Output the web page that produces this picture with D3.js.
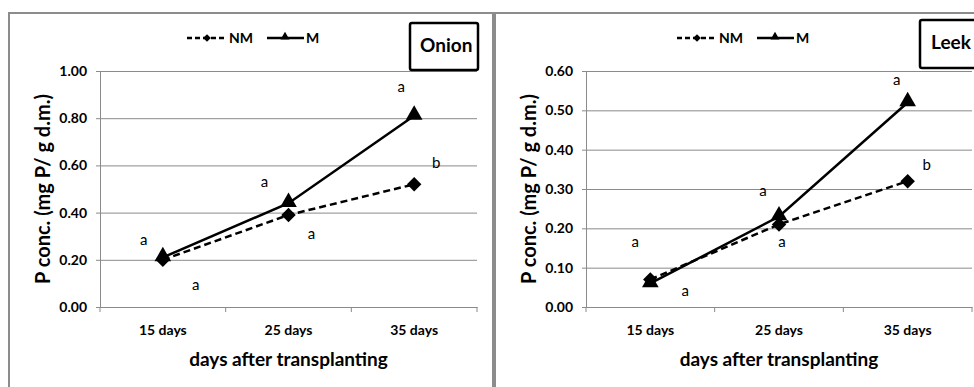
<!DOCTYPE html>
<html lang="en">
<head>
<meta charset="UTF-8">
<title>P concentration</title>
<script src="https://d3js.org/d3.v7.min.js"></script>
<style>
  body { margin: 0; background: #fff; }
  text { font-family: Lato, "Open Sans", sans-serif; }
</style>
</head>
<body>
<script>
  const categories = ['15  days', '25 days', '35 days']
  const seriesNames = ['NM', 'M']

  const onionNM = [0.20, 0.39, 0.52]
  const onionM = [0.21, 0.44, 0.81]
  const onionTicks = [0, 0.2, 0.4, 0.6, 0.8, 1.0]
  const onionLettersNM = ['a', 'a', 'b']
  const onionLettersM = ['a', 'a', 'a']

  const leekNM = [0.07, 0.21, 0.32]
  const leekM = [0.06, 0.23, 0.52]
  const leekTicks = [0, 0.1, 0.2, 0.3, 0.4, 0.5, 0.6]
  const leekLettersNM = ['a', 'a', 'b']
  const leekLettersM = ['a', 'a', 'a']

  const width = 974, height = 387

  const svg = d3.select('body').append('svg')
    .attr('width', width).attr('height', height)

  function panel(opt) {
    const g = svg.append('g')

    // outer frame
    g.append('rect')
      .attr('x', opt.frame[0]).attr('y', 13)
      .attr('width', opt.frame[1] - opt.frame[0]).attr('height', 400)
      .attr('fill', 'none').attr('stroke', '#8c8c8c').attr('stroke-width', 2)

    const x = d3.scaleBand().domain(categories).range([opt.left, opt.right])
    const y = d3.scaleLinear().domain([0, opt.max]).range([307, 71])

    // grid
    g.append('g')
      .attr('transform', `translate(${opt.left},0)`)
      .call(d3.axisLeft(y).tickValues(opt.ticks.slice(1)).tickSize(-(opt.right - opt.left)).tickFormat(''))
      .call(s => s.select('.domain').remove())
      .selectAll('line').attr('stroke', '#8a8a8a')

    // y axis
    g.append('g')
      .attr('transform', `translate(${opt.left},0)`)
      .call(d3.axisLeft(y).tickValues(opt.ticks).tickSize(4).tickPadding(9).tickFormat(d3.format('.2f')))
      .call(s => s.select('.domain').attr('stroke', '#8a8a8a'))
      .call(s => s.selectAll('line').attr('stroke', '#8a8a8a'))
      .call(s => s.selectAll('text').attr('font-size', 14).attr('font-weight', 'bold').attr('fill', '#000')
        .style('font-family', 'Lato, sans-serif'))

    // x axis
    const xa = g.append('g')
      .attr('transform', 'translate(0,307)')
      .call(d3.axisBottom(x).tickSize(0).tickPadding(18))
      .call(s => s.select('.domain').attr('stroke', '#8a8a8a'))
      .call(s => s.selectAll('text').attr('font-size', 14).attr('font-weight', 'bold').attr('fill', '#000')
        .style('font-family', 'Lato, sans-serif'))
    xa.selectAll('.bound')
      .data(categories.map(c => x(c)).concat([x.range()[1]]))
      .join('line').attr('class', 'bound')
      .attr('x1', d => d).attr('x2', d => d).attr('y1', 0).attr('y2', 5)
      .attr('stroke', '#8a8a8a')

    const cx = c => x(c) + x.bandwidth() / 2

    // axis titles
    g.append('text')
      .attr('x', (opt.left + opt.right) / 2).attr('y', 366)
      .attr('text-anchor', 'middle').attr('font-size', 19).attr('font-weight', 'bold')
      .text('days after transplanting')
    g.append('text')
      .attr('transform', `translate(${opt.left - 50},${(71 + 307) / 2}) rotate(-90)`)
      .attr('text-anchor', 'middle').attr('font-size', 20).attr('font-weight', 'bold')
      .text('P conc. (mg P/ g d.m.)')

    // lines
    const line = d3.line().x((d, i) => cx(categories[i])).y(d => y(d))
    g.append('path').datum(opt.nm).attr('d', line)
      .attr('fill', 'none').attr('stroke', '#000').attr('stroke-width', 2.5).attr('stroke-dasharray', '7,4')
    g.append('path').datum(opt.m).attr('d', line)
      .attr('fill', 'none').attr('stroke', '#000').attr('stroke-width', 2.5)

    const diamond = d3.symbol().type(d3.symbolSquare).size(105)
    const triangle = d3.symbol().type(d3.symbolTriangle).size(120)

    g.selectAll('.nm').data(opt.nm).join('path').attr('class', 'nm')
      .attr('d', diamond)
      .attr('transform', (d, i) => `translate(${cx(categories[i])},${y(d)}) rotate(45)`)
    g.selectAll('.m').data(opt.m).join('path').attr('class', 'm')
      .attr('d', triangle)
      .attr('transform', (d, i) => `translate(${cx(categories[i])},${y(d) - 1})`)

    // significance letters
    g.selectAll('.lm').data(opt.lm).join('text').attr('class', 'lm')
      .attr('x', (d, i) => cx(categories[i]) + opt.offM[i][0])
      .attr('y', (d, i) => y(opt.m[i]) + opt.offM[i][1])
      .attr('font-size', 15).attr('text-anchor', 'middle').text(d => d)
    g.selectAll('.lnm').data(opt.lnm).join('text').attr('class', 'lnm')
      .attr('x', (d, i) => cx(categories[i]) + opt.offNM[i][0])
      .attr('y', (d, i) => y(opt.nm[i]) + opt.offNM[i][1])
      .attr('font-size', 15).attr('text-anchor', 'middle').text(d => d)

    // legend
    const lg = g.append('g').attr('transform', `translate(${opt.legend},38)`)
    lg.append('line').attr('x1', 0).attr('x2', 40).attr('stroke', '#000')
      .attr('stroke-width', 2.5).attr('stroke-dasharray', '5,3')
    lg.append('path').attr('d', d3.symbol().type(d3.symbolSquare).size(30)).attr('transform', 'translate(20,0) rotate(45)')
    lg.append('text').attr('x', 42).attr('y', 5).attr('font-size', 14).attr('font-weight', 'bold').text(seriesNames[0])
    lg.append('line').attr('x1', 80).attr('x2', 117).attr('stroke', '#000').attr('stroke-width', 2.5)
    lg.append('path').attr('d', d3.symbol().type(d3.symbolTriangle).size(35)).attr('transform', 'translate(98,-1)')
    lg.append('text').attr('x', 119).attr('y', 5).attr('font-size', 14).attr('font-weight', 'bold').text(seriesNames[1])

    // title box
    g.append('rect')
      .attr('x', opt.box[0]).attr('y', opt.box[1]).attr('width', opt.box[2]).attr('height', opt.box[3])
      .attr('rx', 2).attr('fill', '#fff').attr('stroke', '#000').attr('stroke-width', 2.5)
    g.append('text')
      .attr('x', opt.box[0] + opt.box[4]).attr('y', opt.box[1] + 29)
      .attr('font-size', 19).attr('font-weight', 'bold').text(opt.title)
  }

  panel({
    frame: [9, 493], left: 100, right: 477, max: 1.0, ticks: onionTicks,
    nm: onionNM, m: onionM, lnm: onionLettersNM, lm: onionLettersM,
    offM: [[-19, -12], [-24, -16], [-13, -24]],
    offNM: [[33, 30], [23, 24], [22, -16]],
    legend: 187, box: [410, 23, 68, 47, 10], title: 'Onion'
  })

  panel({
    frame: [495, 990], left: 586, right: 972, max: 0.6, ticks: leekTicks,
    nm: leekNM, m: leekM, lnm: leekLettersNM, lm: leekLettersM,
    offM: [[-15, -36], [-16, -21], [-11, -17]],
    offNM: [[35, 17], [3, 23], [19, -11]],
    legend: 677, box: [920, 20, 70, 48, 11], title: 'Leek'
  })
</script>
</body>
</html>
